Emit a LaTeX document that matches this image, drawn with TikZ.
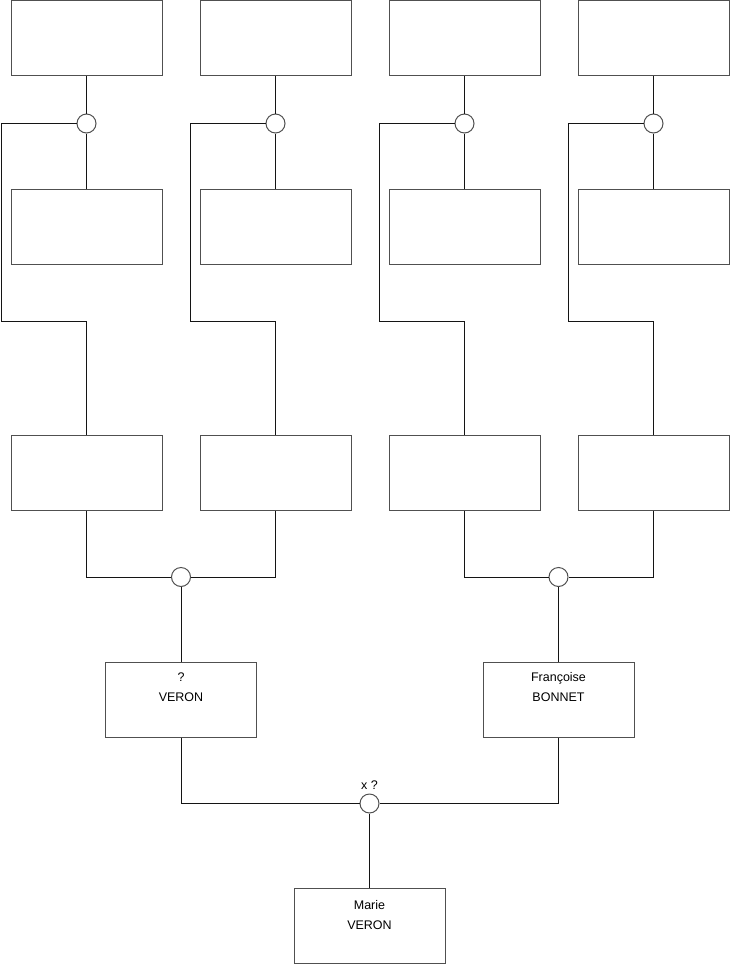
\documentclass[tikz,border=0pt]{standalone}
\usepackage{fontspec}
\setmainfont{Liberation Sans}
\definecolor{boxc}{RGB}{80,80,80}
\definecolor{linec}{RGB}{20,20,20}
\begin{document}
\begin{tikzpicture}[x=1pt,y=-1pt,
  pbox/.style={draw=boxc,line width=1pt,rectangle,minimum width=151pt,minimum height=75pt,inner sep=0pt,fill=white},
  knot/.style={draw=boxc,line width=1pt,circle,minimum size=19pt,inner sep=0pt,fill=white},
  txt/.style={align=center,inner sep=0pt,font=\fontsize{12.5}{20}\selectfont},
  conn/.style={draw=linec,line width=1pt}]
\useasboundingbox (0,0) rectangle (740,975);
\fill[white] (0,0) rectangle (740,975);
% row 1
\node[pbox] (a1) at (86.5,38) {};
\node[pbox] (a2) at (275.5,38) {};
\node[pbox] (a3) at (464.5,38) {};
\node[pbox] (a4) at (653.5,38) {};
% row 2
\node[pbox] (b1) at (86.5,227) {};
\node[pbox] (b2) at (275.5,227) {};
\node[pbox] (b3) at (464.5,227) {};
\node[pbox] (b4) at (653.5,227) {};
% row 3
\node[pbox] (r1) at (86.5,473) {};
\node[pbox] (r2) at (275.5,473) {};
\node[pbox] (r3) at (464.5,473) {};
\node[pbox] (r4) at (653.5,473) {};
% row 4
\node[pbox] (p1) at (181,699.5) {};
\node[pbox] (p2) at (558.5,699.5) {};
% row 5
\node[pbox] (m) at (369.5,925.5) {};
% texts
\node[txt] (tp1) at (181,687.5) {?\\VERON};
\node[txt] (tp2) at (558.5,687.5) {Françoise\\BONNET};
\node[txt] (tm) at (369.5,915.5) {Marie\\VERON};
% knots
\node[knot] (k1) at (86.5,123.5) {};
\node[knot] (k2) at (275.5,123.5) {};
\node[knot] (k3) at (464.5,123.5) {};
\node[knot] (k4) at (653.5,123.5) {};
\node[knot] (n1) at (181,577) {};
\node[knot] (n2) at (558.5,577) {};
\node[knot] (nb) at (369.5,803.5) {};
\node[txt] (xq) at (369.5,785.5) {x ?};
% turn coordinates
\coordinate (l1) at (1.5,321.5);
\coordinate (l2) at (190.5,321.5);
\coordinate (l3) at (379.5,321.5);
\coordinate (l4) at (568.5,321.5);
% connectors
\foreach \i in {1,2,3,4}{
  \path[conn] (a\i.south) -- (k\i.north);
  \path[conn] (k\i.south) -- (b\i.north);
  \path[conn] (k\i.west) -| (l\i) -| (r\i.north);
}
\path[conn] (r1.south) |- (n1.west);
\path[conn] (r2.south) |- (n1.east);
\path[conn] (r3.south) |- (n2.west);
\path[conn] (r4.south) |- (n2.east);
\path[conn] (n1.south) -- (p1.north);
\path[conn] (n2.south) -- (p2.north);
\path[conn] (p1.south) |- (nb.west);
\path[conn] (p2.south) |- (nb.east);
\path[conn] (nb.south) -- (m.north);
\end{tikzpicture}
\end{document}
